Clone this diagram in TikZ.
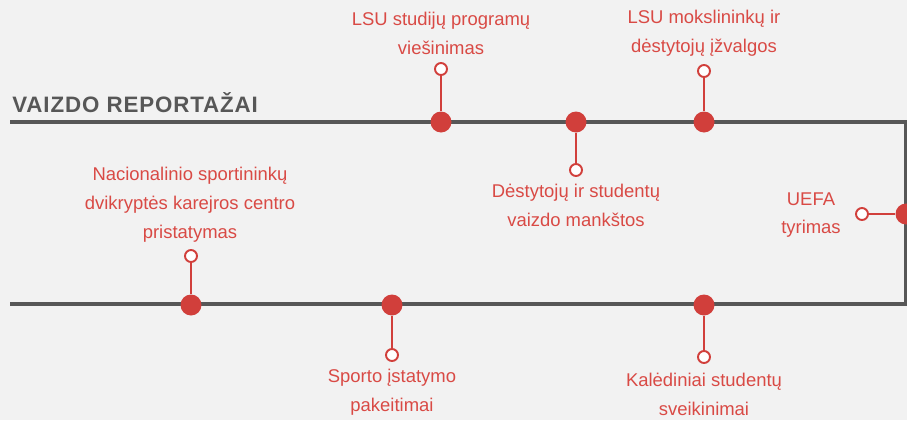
\documentclass[tikz,border=0pt]{standalone}
\usepackage{fontspec}
\setmainfont{Liberation Sans}
\newfontfamily\titlefont[LetterSpace=4]{Liberation Sans}
\definecolor{bg}{HTML}{F2F2F2}
\definecolor{axis}{HTML}{575757}
\definecolor{lsured}{HTML}{D13F3B}
\definecolor{lbltext}{HTML}{D94A45}

\begin{document}
\begin{tikzpicture}[x=0.02cm,y=-0.02cm,
  dot/.style={circle,fill=lsured,inner sep=0pt,minimum size=0.42cm},
  pin/.style={circle,draw=lsured,fill=white,line width=1.1pt,inner sep=0pt,minimum size=0.24cm},
  stem/.style={draw=lsured,line width=1.1pt},
  lbl/.style={text=lbltext,align=center,inner sep=0pt,font=\fontsize{10.5}{16.4}\selectfont}]
  \fill[bg] (0,0) rectangle (907,420);
  \useasboundingbox (0,0) rectangle (907,420);

  % the track
  \coordinate (a) at (10,122);
  \coordinate (b) at (906,122);
  \coordinate (c) at (906,304);
  \coordinate (d) at (10,304);
  \draw[axis,line width=2.1pt] (a) -- (b) -- (c) -- (d);
  \node[anchor=west,text=axis,inner sep=0pt,font=\titlefont\bfseries\fontsize{12.7}{14}\selectfont] (title) at (12,103) {VAIZDO REPORTAŽAI};

  % top row
  \node[dot] (1) at (441,122) {};
  \node[dot] (2) at (576,122) {};
  \node[dot] (3) at (704,122) {};
  \node[pin] (p1) at (441,69) {};
  \node[pin] (p2) at (576,170) {};
  \node[pin] (p3) at (704,71) {};
  \draw[stem] (1) -- (p1);
  \draw[stem] (2) -- (p2);
  \draw[stem] (3) -- (p3);
  \node[lbl] (l1) at (441,33) {LSU studijų programų\\viešinimas};
  \node[lbl] (l2) at (576,205) {Dėstytojų ir studentų\\vaizdo mankštos};
  \node[lbl] (l3) at (704,33) {LSU mokslininkų ir\\dėstytojų įžvalgos};

  % right side
  \node[dot] (4) at (906,214) {};
  \node[pin] (p4) at (862,214) {};
  \draw[stem] (4) -- (p4);
  \node[lbl] (l4) at (811,215) {UEFA\\tyrimas};

  % bottom row
  \node[dot] (5) at (704,305) {};
  \node[dot] (6) at (392,305) {};
  \node[dot] (7) at (191,305) {};
  \node[pin] (p5) at (704,357) {};
  \node[pin] (p6) at (392,355) {};
  \node[pin] (p7) at (191,256) {};
  \draw[stem] (5) -- (p5);
  \draw[stem] (6) -- (p6);
  \draw[stem] (7) -- (p7);
  \node[lbl] (l5) at (704,394) {Kalėdiniai studentų\\sveikinimai};
  \node[lbl] (l6) at (392,392) {Sporto įstatymo\\pakeitimai};
  \node[lbl] (l7) at (190,205) {Nacionalinio sportininkų\\dvikryptės karejros centro\\pristatymas};
\end{tikzpicture}
\end{document}
